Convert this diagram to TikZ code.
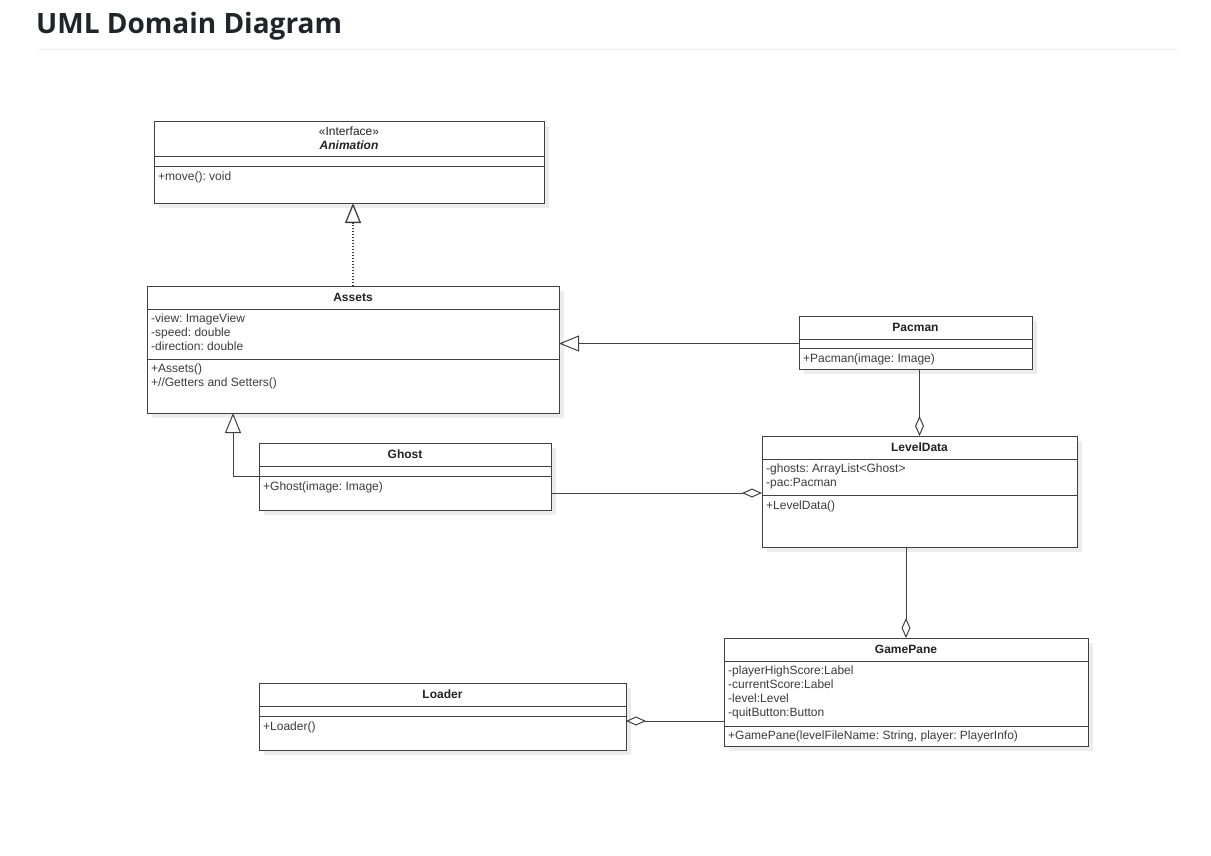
\documentclass[tikz,border=0pt]{standalone}
\usepackage{fontspec}
\setmainfont{Liberation Sans}
\newfontfamily\titlefont{Open Sans}
\frenchspacing
\usetikzlibrary{positioning,arrows.meta,shadows}
\definecolor{linegray}{RGB}{64,64,64}
\definecolor{textgray}{RGB}{60,60,60}
\definecolor{namegray}{RGB}{34,34,34}
\definecolor{shadowgray}{RGB}{236,236,236}
\definecolor{rulegray}{RGB}{234,236,239}
\definecolor{titleblack}{RGB}{33,37,41}

\tikzset{
  compart/.style={draw=linegray, line width=1pt, fill=white, rectangle, inner sep=0pt, outer sep=0pt,
    general shadow={fill=shadowgray, shadow xshift=5pt, shadow yshift=-5pt}},
  classname/.style={font=\fontsize{12}{14}\selectfont\bfseries, text=namegray},
  members/.style={anchor=north west, inner sep=0pt, align=left, text=textgray,
    font=\fontsize{12}{14}\selectfont, execute at begin node=\strut},
  link/.style={draw=linegray, line width=1pt},
  inherit/.style={link, -{Triangle[open, length=20pt, width=16pt]}},
  realize/.style={inherit, line width=1.3pt, dash pattern=on 1.3pt off 1.7pt},
  aggr/.style={link, -{Diamond[open, length=20pt, width=9pt]}},
}

\begin{document}
\begin{tikzpicture}[x=1pt, y=-1pt]
    \useasboundingbox (0,0) rectangle (1211,855);

    % Heading
    \node[anchor=base west, inner sep=0pt, text=titleblack] (title) at (36,33) {\titlefont\fontsize{28}{34}\selectfont\bfseries UML Domain Diagram};
    \draw[rulegray, line width=1pt] (38,49) -- (1178,49);

    % Animation interface
    \node[compart, classname, align=center, minimum width=390pt, minimum height=35pt, anchor=north west] (anim) at (154,121) {{\mdseries «Interface»}\\\itshape Animation};
    \node[compart, minimum width=390pt, minimum height=10pt, below=0pt of anim] (anim-att) {};
    \node[compart, minimum width=390pt, minimum height=37pt, below=0pt of anim-att] (anim-mth) {};
    \node[members] (anim-mth-txt) at ([xshift=4pt,yshift=-4.2pt]anim-mth.north west) {+move(): void};

    % Assets
    \node[compart, classname, minimum width=412pt, minimum height=23pt, anchor=north west] (assets) at (147,286) {Assets};
    \node[compart, minimum width=412pt, minimum height=50pt, below=0pt of assets] (assets-att) {};
    \node[compart, minimum width=412pt, minimum height=54pt, below=0pt of assets-att] (assets-mth) {};
    \node[members] (assets-att-txt) at ([xshift=4pt,yshift=-4.2pt]assets-att.north west) {-view: ImageView\\-speed: double\\-direction: double};
    \node[members] (assets-mth-txt) at ([xshift=4pt,yshift=-4.2pt]assets-mth.north west) {+Assets()\\+//Getters and Setters()};

    % Pacman
    \node[compart, classname, minimum width=233pt, minimum height=23pt, anchor=north west] (pacman) at (799,316) {Pacman};
    \node[compart, minimum width=233pt, minimum height=9pt, below=0pt of pacman] (pacman-att) {};
    \node[compart, minimum width=233pt, minimum height=21pt, below=0pt of pacman-att] (pacman-mth) {};
    \node[members] (pacman-mth-txt) at ([xshift=4pt,yshift=-4.2pt]pacman-mth.north west) {+Pacman(image: Image)};

    % Ghost
    \node[compart, classname, minimum width=292pt, minimum height=23pt, anchor=north west] (ghost) at (259,443) {Ghost};
    \node[compart, minimum width=292pt, minimum height=10pt, below=0pt of ghost] (ghost-att) {};
    \node[compart, minimum width=292pt, minimum height=34pt, below=0pt of ghost-att] (ghost-mth) {};
    \node[members] (ghost-mth-txt) at ([xshift=4pt,yshift=-4.2pt]ghost-mth.north west) {+Ghost(image: Image)};

    % LevelData
    \node[compart, classname, minimum width=315pt, minimum height=23pt, anchor=north west] (level) at (762,436) {LevelData};
    \node[compart, minimum width=315pt, minimum height=36pt, below=0pt of level] (level-att) {};
    \node[compart, minimum width=315pt, minimum height=52pt, below=0pt of level-att] (level-mth) {};
    \node[members] (level-att-txt) at ([xshift=4pt,yshift=-4.2pt]level-att.north west) {-ghosts: ArrayList<Ghost>\\-pac:Pacman};
    \node[members] (level-mth-txt) at ([xshift=4pt,yshift=-4.2pt]level-mth.north west) {+LevelData()};

    % GamePane
    \node[compart, classname, minimum width=364pt, minimum height=23pt, anchor=north west] (pane) at (724,638) {GamePane};
    \node[compart, minimum width=364pt, minimum height=65pt, below=0pt of pane] (pane-att) {};
    \node[compart, minimum width=364pt, minimum height=20pt, below=0pt of pane-att] (pane-mth) {};
    \node[members] (pane-att-txt) at ([xshift=4pt,yshift=-4.2pt]pane-att.north west) {-playerHighScore:Label\\-currentScore:Label\\-level:Level\\-quitButton:Button};
    \node[members] (pane-mth-txt) at ([xshift=4pt,yshift=-3.2pt]pane-mth.north west) {+GamePane(levelFileName: String, player: PlayerInfo)};

    % Loader
    \node[compart, classname, minimum width=367pt, minimum height=23pt, anchor=north west] (loader) at (259,683) {Loader};
    \node[compart, minimum width=367pt, minimum height=10pt, below=0pt of loader] (loader-att) {};
    \node[compart, minimum width=367pt, minimum height=34pt, below=0pt of loader-att] (loader-mth) {};
    \node[members] (loader-mth-txt) at ([xshift=4pt,yshift=-4.2pt]loader-mth.north west) {+Loader()};

    % Relations
    \draw[realize] (assets.north) -- (assets.north |- anim-mth.south);
    \draw[inherit] (pacman-att.west) -- (pacman-att.west -| assets-att.east);
    \draw[inherit] (ghost-att.south west) -| ([xshift=86pt]assets-mth.south west);
    \draw[aggr] (pacman-mth.south -| level.north) -- (level.north);
    \draw[aggr] (ghost-mth.east) -- (ghost-mth.east -| level-att.west);
    \draw[aggr] (level-mth.south -| pane.north) -- (pane.north);
    \coordinate (loader-link) at ([yshift=-5pt]loader-mth.north east);
    \draw[aggr] (loader-link -| pane-att.west) -- (loader-link);
\end{tikzpicture}
\end{document}
